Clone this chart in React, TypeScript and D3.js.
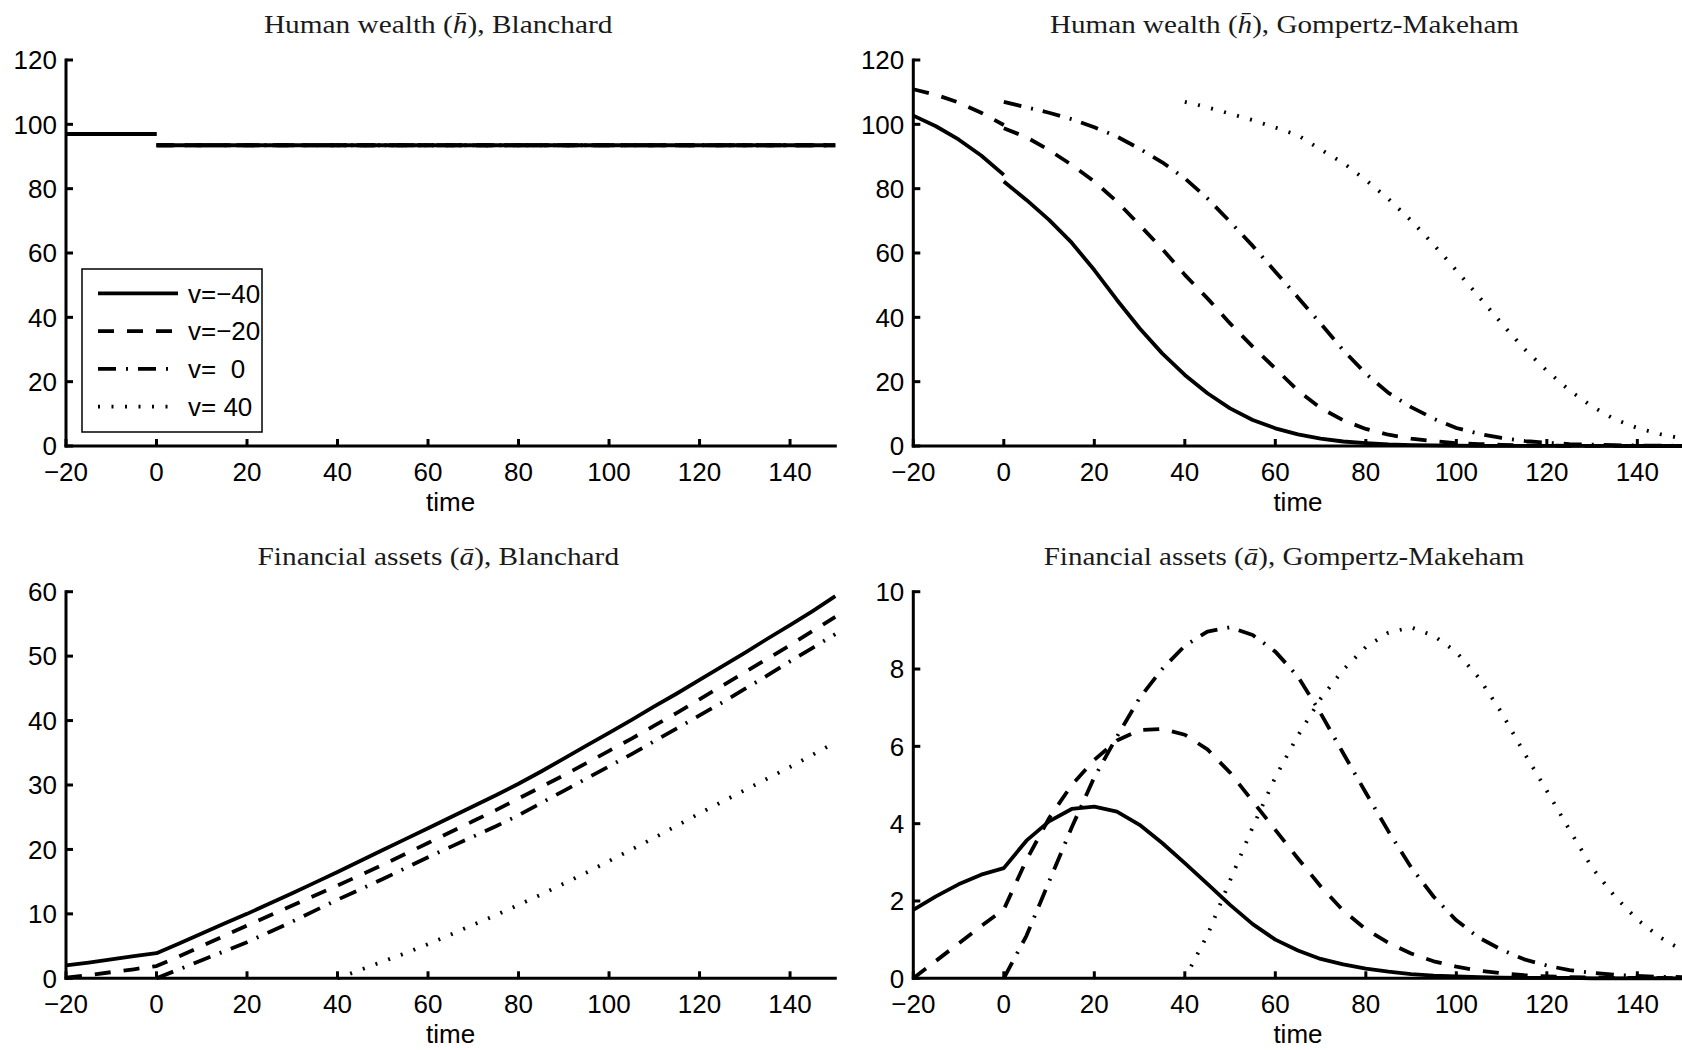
import React from 'react';
import * as d3 from 'd3';

// ---------- time grids ----------
const timePre = [-20, -15, -10, -5, 0];
const timePost = [0, 5, 10, 15, 20, 25, 30, 35, 40, 45, 50, 55, 60, 65, 70, 75, 80, 85, 90, 95, 100, 105, 110, 115, 120, 125, 130, 135, 140, 145, 150];
const timeFrom40 = [40, 45, 50, 55, 60, 65, 70, 75, 80, 85, 90, 95, 100, 105, 110, 115, 120, 125, 130, 135, 140, 145, 150];
const timeAll = [-20, -15, -10, -5, 0, 5, 10, 15, 20, 25, 30, 35, 40, 45, 50, 55, 60, 65, 70, 75, 80, 85, 90, 95, 100, 105, 110, 115, 120, 125, 130, 135, 140, 145, 150];

// ---------- Human wealth, Blanchard ----------
const blHumanTimePre = [-20, 0];
const blHumanPre = [97.0, 97.0];
const blHumanTimePost = [0, 150];
const blHumanPost = [93.5, 93.5];
const blHumanTimeV40 = [40, 150];
const blHumanV40 = [93.5, 93.5];

// ---------- Human wealth, Gompertz-Makeham ----------
const gmHumanPreVm40 = [102.7, 99.4, 95.3, 90.3, 84.3];
const gmHumanPostVm40 = [82.2, 76.5, 70.3, 63.2, 54.7, 45.4, 36.6, 28.8, 22.1, 16.4, 11.7, 8.1, 5.5, 3.6, 2.3, 1.4, 0.9, 0.5, 0.3, 0.2, 0.1, 0.06, 0.04, 0.03, 0.02, 0.01, 0.01, 0.01, 0, 0, 0];
const gmHumanPreVm20 = [110.9, 109.2, 106.8, 103.6, 99.8];
const gmHumanPostVm20 = [98.8, 96.0, 92.0, 87.4, 82.2, 76.0, 68.7, 61.3, 53.2, 45.9, 38.1, 30.9, 24.1, 17.2, 11.8, 8.0, 5.3, 3.5, 2.3, 1.5, 0.9, 0.6, 0.35, 0.2, 0.1, 0.06, 0.04, 0.02, 0.01, 0.01, 0];
const gmHumanV0 = [107.0, 105.3, 103.6, 101.6, 99.1, 96.2, 92.4, 88.2, 83.2, 77.0, 69.7, 62.2, 54.2, 46.2, 38.1, 29.8, 22.5, 16.5, 12.1, 8.5, 5.6, 3.8, 2.5, 1.6, 1.0, 0.6, 0.4, 0.25, 0.15, 0.1, 0.05];
const gmHumanV40 = [107.0, 105.3, 103.3, 101.3, 99.0, 96.6, 92.2, 88.0, 82.7, 76.8, 70.1, 62.6, 54.6, 46.4, 38.1, 30.2, 23.4, 17.3, 12.3, 8.3, 5.6, 3.7, 2.3];

// ---------- Financial assets, Blanchard ----------
const blAssetVm40 = [2.0, 2.45, 2.95, 3.45, 3.9, 5.4, 6.95, 8.5, 10.0, 11.6, 13.2, 14.85, 16.5, 18.2, 19.9, 21.6, 23.3, 25.0, 26.7, 28.4, 30.2, 32.1, 34.1, 36.1, 38.1, 40.1, 42.2, 44.2, 46.3, 48.4, 50.5, 52.7, 54.8, 57.0, 59.3];
const blAssetVm20 = [0.1, 0.5, 0.95, 1.4, 1.9, 3.4, 5.0, 6.6, 8.2, 9.75, 11.3, 12.85, 14.4, 16.0, 17.6, 19.3, 21.0, 22.7, 24.4, 26.1, 27.9, 29.7, 31.5, 33.4, 35.3, 37.2, 39.2, 41.2, 43.3, 45.4, 47.5, 49.6, 51.7, 53.9, 56.1];
const blAssetV0 = [0, 1.4, 2.8, 4.2, 5.6, 7.2, 8.8, 10.5, 12.2, 13.8, 15.4, 17.1, 18.8, 20.4, 22.0, 23.6, 25.3, 27.2, 29.1, 31.0, 32.9, 34.8, 36.8, 38.8, 40.8, 42.8, 44.9, 47.0, 49.2, 51.3, 53.4];
const blAssetV40 = [0, 1.3, 2.6, 3.9, 5.3, 6.8, 8.3, 9.8, 11.4, 13.0, 14.7, 16.4, 18.2, 20.0, 21.8, 23.7, 25.6, 27.4, 29.2, 31.0, 32.8, 34.7, 36.6];

// ---------- Financial assets, Gompertz-Makeham ----------
const gmAssetVm40 = [1.77, 2.12, 2.43, 2.68, 2.85, 3.56, 4.06, 4.38, 4.44, 4.31, 3.97, 3.5, 2.98, 2.44, 1.9, 1.4, 1.0, 0.72, 0.5, 0.36, 0.25, 0.17, 0.11, 0.07, 0.05, 0.03, 0.02, 0.01, 0.01, 0.01, 0, 0, 0, 0, 0];
const gmAssetVm20 = [0, 0.45, 0.9, 1.35, 1.78, 3.06, 4.14, 5.0, 5.65, 6.15, 6.42, 6.45, 6.3, 5.92, 5.32, 4.58, 3.84, 3.1, 2.38, 1.75, 1.27, 0.92, 0.64, 0.44, 0.3, 0.2, 0.13, 0.08, 0.05, 0.03, 0.02, 0.01, 0.01, 0.01, 0];
const gmAssetV0 = [0, 1.1, 2.5, 3.9, 5.2, 6.25, 7.25, 8.0, 8.6, 8.97, 9.08, 8.88, 8.45, 7.8, 6.86, 5.82, 4.8, 3.8, 2.87, 2.11, 1.5, 1.05, 0.74, 0.49, 0.33, 0.21, 0.14, 0.09, 0.06, 0.04, 0.03];
const gmAssetV40 = [0, 1.12, 2.53, 3.91, 5.2, 6.28, 7.23, 7.98, 8.57, 8.94, 9.08, 8.86, 8.44, 7.77, 6.87, 5.83, 4.85, 3.84, 2.86, 2.12, 1.52, 1.06, 0.72];

// ---------- labels / ticks ----------
const legendLabels = ['v=\u221240', 'v=\u221220', 'v=  0', 'v= 40'];
const xTicks = [-20, 0, 20, 40, 60, 80, 100, 120, 140];
const yTicksHuman = [0, 20, 40, 60, 80, 100, 120];
const yTicksBlAsset = [0, 10, 20, 30, 40, 50, 60];
const yTicksGmAsset = [0, 2, 4, 6, 8, 10];

// line styles: solid, dashed, dash-dot, dotted
const DASHES: (string | undefined)[] = [undefined, '16 13', '18 10 2 10', '2 11.5'];
const LW = 3.8;
const SANS = 'Liberation Sans, Arial, Helvetica, sans-serif';
const SERIF = 'Liberation Serif, Times New Roman, serif';

type Series = { t: number[]; v: number[]; s: number };

function fmt(n: number) {
  return n < 0 ? '\u2212' + Math.abs(n) : String(n);
}

function Title({ cx, baseline, width, pre, sym, post }: any) {
  return (
    <text
      x={cx}
      y={baseline}
      textAnchor="middle"
      fontFamily={SERIF}
      fontSize={25}
      fill="#1a1a1a"
      textLength={width}
      lengthAdjust="spacingAndGlyphs"
    >
      {pre}
      <tspan fontStyle="italic">{sym}</tspan>
      {post}
    </text>
  );
}

function Panel(props: {
  xRange: [number, number];
  yRange: [number, number];
  yDomain: [number, number];
  yTicks: number[];
  series: Series[];
  legend?: boolean;
}) {
  const { xRange, yRange, yDomain, yTicks, series, legend } = props;
  const x = d3.scaleLinear().domain([-20, 150]).range(xRange);
  const y = d3.scaleLinear().domain(yDomain).range(yRange);
  const line = d3
    .line<[number, number]>()
    .x((d) => x(d[0]))
    .y((d) => y(d[1]));
  const x0 = x(-20);
  const y0 = y(yDomain[0]);
  const yTop = y(yDomain[1]);
  const xEnd = x(150);
  const TL = 7;
  return (
    <g>
      {series.map((s, i) => (
        <path
          key={i}
          d={line(s.t.map((tt, k) => [tt, s.v[k]] as [number, number])) || ''}
          fill="none"
          stroke="#000"
          strokeWidth={LW}
          strokeDasharray={DASHES[s.s]}
          strokeLinejoin="round"
        />
      ))}
      {/* axes */}
      <line x1={x0} y1={yTop} x2={x0} y2={y0} stroke="#000" strokeWidth={3} strokeLinecap="square" />
      <line x1={x0} y1={y0} x2={xEnd} y2={y0} stroke="#000" strokeWidth={3} strokeLinecap="square" />
      {yTicks.map((t) => (
        <g key={'y' + t}>
          <line x1={x0} x2={x0 + TL} y1={y(t)} y2={y(t)} stroke="#000" strokeWidth={3} />
          <text
            x={x0 - 9}
            y={y(t)}
            dy="0.36em"
            textAnchor="end"
            fontFamily={SANS}
            fontSize={26}
            fill="#000"
          >
            {fmt(t)}
          </text>
        </g>
      ))}
      {xTicks.map((t) => (
        <g key={'x' + t}>
          <line x1={x(t)} x2={x(t)} y1={y0} y2={y0 - TL} stroke="#000" strokeWidth={3} />
          <text
            x={x(t)}
            y={y0 + 35}
            textAnchor="middle"
            fontFamily={SANS}
            fontSize={26}
            fill="#000"
          >
            {fmt(t)}
          </text>
        </g>
      ))}
      <text
        x={(x0 + xEnd) / 2}
        y={y0 + 65}
        textAnchor="middle"
        fontFamily={SANS}
        fontSize={26}
        fill="#000"
      >
        time
      </text>
      {legend && (
        <g>
          <rect x={82} y={269} width={180} height={163} fill="#fff" stroke="#000" strokeWidth={1.5} />
          {legendLabels.map((lab, i) => {
            const ry = 293.3 + i * 37.8;
            return (
              <g key={lab}>
                <line
                  x1={98}
                  x2={178}
                  y1={ry}
                  y2={ry}
                  stroke="#000"
                  strokeWidth={LW}
                  strokeDasharray={DASHES[i]}
                />
                <text
                  x={188}
                  y={ry}
                  dy="0.36em"
                  fontFamily={SANS}
                  fontSize={26}
                  fill="#000"
                  style={{ whiteSpace: 'pre' }}
                >
                  {lab}
                </text>
              </g>
            );
          })}
        </g>
      )}
    </g>
  );
}

export default function App() {
  const LX: [number, number] = [66, 835.3];
  const RX: [number, number] = [913.3, 1682.6];
  const TY: [number, number] = [446, 60];
  const BY: [number, number] = [978.3, 591.7];

  const tl: Series[] = [
    { t: blHumanTimePre, v: blHumanPre, s: 0 },
    { t: blHumanTimePost, v: blHumanPost, s: 0 },
    { t: blHumanTimePre, v: blHumanPre, s: 1 },
    { t: blHumanTimePost, v: blHumanPost, s: 1 },
    { t: blHumanTimePost, v: blHumanPost, s: 2 },
    { t: blHumanTimeV40, v: blHumanV40, s: 3 },
  ];
  const tr: Series[] = [
    { t: timePre, v: gmHumanPreVm40, s: 0 },
    { t: timePost, v: gmHumanPostVm40, s: 0 },
    { t: timePre, v: gmHumanPreVm20, s: 1 },
    { t: timePost, v: gmHumanPostVm20, s: 1 },
    { t: timePost, v: gmHumanV0, s: 2 },
    { t: timeFrom40, v: gmHumanV40, s: 3 },
  ];
  const bl: Series[] = [
    { t: timeAll, v: blAssetVm40, s: 0 },
    { t: timeAll, v: blAssetVm20, s: 1 },
    { t: timePost, v: blAssetV0, s: 2 },
    { t: timeFrom40, v: blAssetV40, s: 3 },
  ];
  const br: Series[] = [
    { t: timeAll, v: gmAssetVm40, s: 0 },
    { t: timeAll, v: gmAssetVm20, s: 1 },
    { t: timePost, v: gmAssetV0, s: 2 },
    { t: timeFrom40, v: gmAssetV40, s: 3 },
  ];

  return (
    <svg
      width={1682}
      height={1050}
      style={{ position: 'absolute', left: 0, top: 0, display: 'block', background: '#fff' }}
    >
      <rect x={0} y={0} width={1682} height={1050} fill="#fff" />
      <Title cx={438.2} baseline={33} width={348.6} pre="Human wealth (" sym={'h\u0304'} post="), Blanchard" />
      <Title cx={1284.5} baseline={33} width={469} pre="Human wealth (" sym={'h\u0304'} post="), Gompertz-Makeham" />
      <Title cx={438.3} baseline={565} width={361.5} pre="Financial assets (" sym={'a\u0304'} post="), Blanchard" />
      <Title cx={1284} baseline={565} width={480.6} pre="Financial assets (" sym={'a\u0304'} post="), Gompertz-Makeham" />
      <Panel xRange={LX} yRange={TY} yDomain={[0, 120]} yTicks={yTicksHuman} series={tl} legend />
      <Panel xRange={RX} yRange={TY} yDomain={[0, 120]} yTicks={yTicksHuman} series={tr} />
      <Panel xRange={LX} yRange={BY} yDomain={[0, 60]} yTicks={yTicksBlAsset} series={bl} />
      <Panel xRange={RX} yRange={BY} yDomain={[0, 10]} yTicks={yTicksGmAsset} series={br} />
    </svg>
  );
}
